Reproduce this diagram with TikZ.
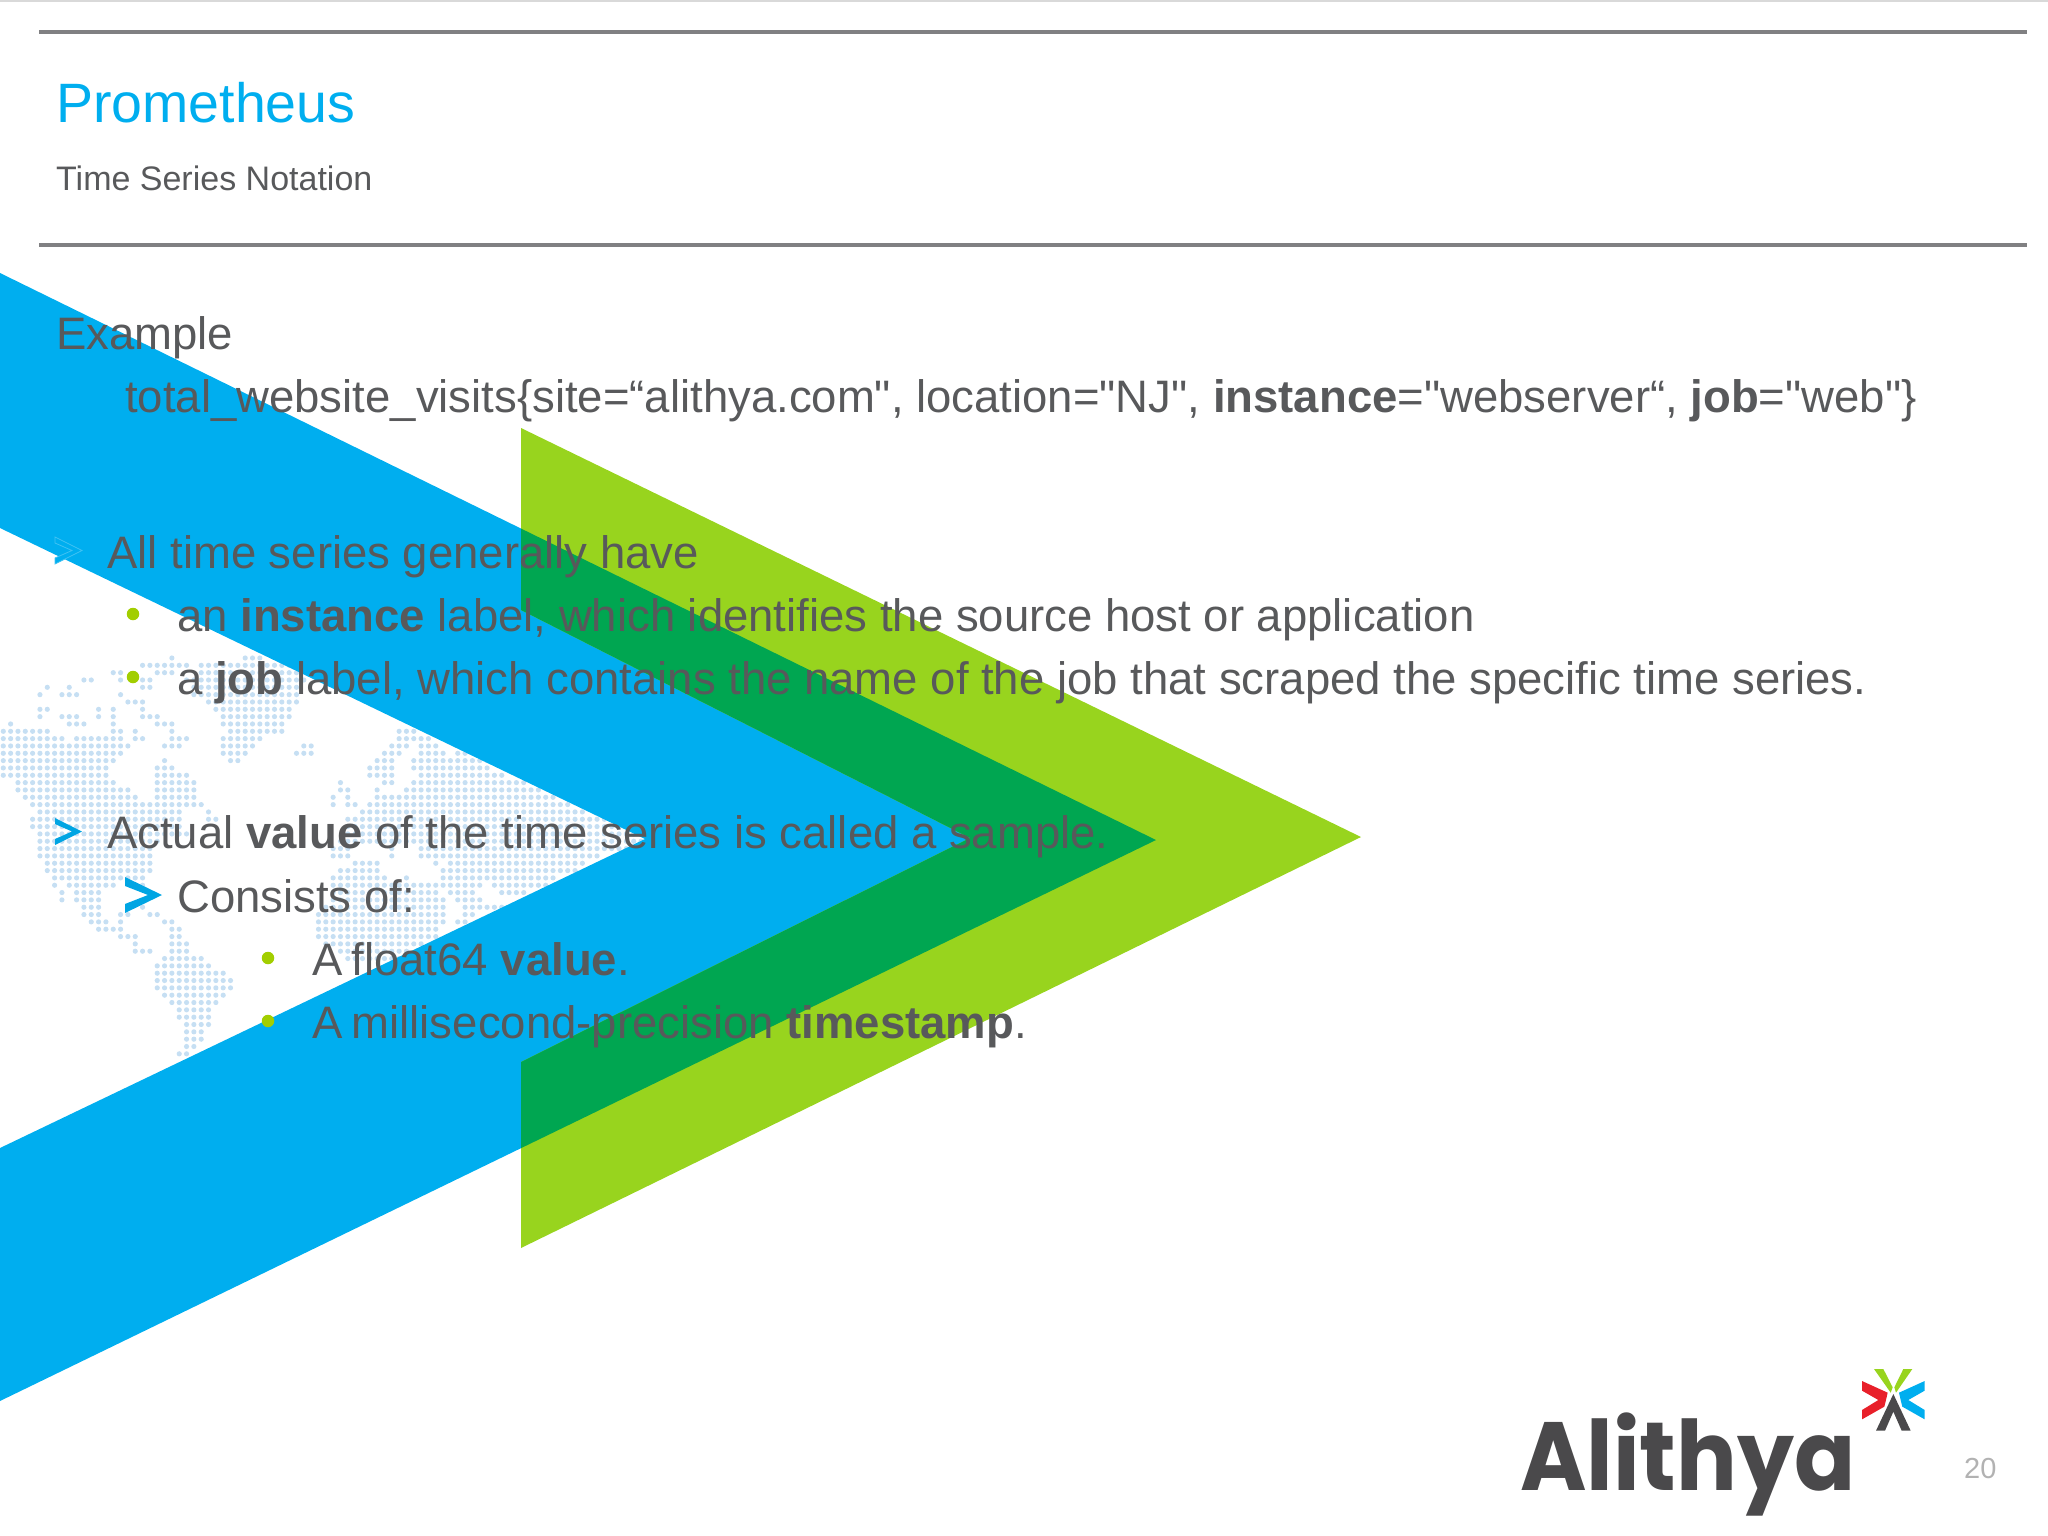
\documentclass[tikz,border=0pt]{standalone}
\usepackage{fontspec}
\setmainfont{Liberation Sans}[Ligatures=TeXOff]
\newfontfamily\logofont{Poppins}
\usetikzlibrary{positioning}
\definecolor{skyblue}{HTML}{00AEEF}
\definecolor{limegreen}{HTML}{98D41E}
\definecolor{deepgreen}{HTML}{00A651}
\definecolor{bodygrey}{HTML}{58595B}
\definecolor{rulegrey}{HTML}{808082}
\definecolor{dotblue}{HTML}{C6DFF3}
\definecolor{bulletgreen}{HTML}{A2CE00}
\definecolor{logogrey}{HTML}{4A494B}
\definecolor{logored}{HTML}{E8202A}
\newcommand{\bluechevron}{(0,273) -- (1156,840) -- (0,1401) -- (0,1148) -- (645,839) -- (0,528) -- cycle}
\newcommand{\greenchevron}{(521,428) -- (1361,837) -- (521,1248) -- (521,1062) -- (970,838) -- (521,610) -- cycle}
\tikzset{
  bodytext/.style={anchor=base west,inner sep=0pt,text=bodygrey,font=\fontsize{45.5}{53}\selectfont},
  dotbullet/.style={circle,fill=bulletgreen,inner sep=0pt,minimum size=12.5pt},
  arrowbullet/.style={fill=skyblue!95!black},
  headrule/.style={draw=rulegrey,line width=4pt},
  mapdot/.style={fill=dotblue}
}
\begin{document}
\begin{tikzpicture}[x=1pt,y=-1pt]
\useasboundingbox (0,0) rectangle (2048,1536);
\draw[black!15,line width=1.5pt] (0,1) -- (2048,1);

% dotted world map, row/first/last column
\foreach \r/\a/\b in {0/23/23,0/33/35,1/19/25,1/27/39,2/15/16,2/21/23,2/27/40,3/11/12,3/16/16,3/19/20,3/25/41,
  4/6/6,4/9/9,4/19/20,4/26/40,5/5/5,5/8/10,5/16/16,5/26/40,6/17/19,6/28/40,7/5/6,7/13/13,7/15/15,7/19/19,7/29/39,
  8/5/5,8/8/10,8/13/13,8/15/15,8/19/21,8/30/39,9/1/1,9/9/11,9/15/15,9/21/23,9/30/38,10/0/6,10/15/16,10/18/18,10/23/23,10/31/38,10/54/56,
  11/0/8,11/10/16,11/18/19,11/23/25,11/30/35,11/54/58,12/0/17,12/22/24,12/30/34,12/41/42,12/53/55,12/57/59,
  13/0/16,13/30/33,13/40/42,13/52/54,13/57/60,13/62/66,14/0/15,14/22/22,14/31/32,14/51/53,14/56/66,
  15/0/14,15/21/23,15/50/53,15/56/66,16/0/14,16/21/25,16/50/53,16/57/68,17/2/15,17/21/26,17/46/46,17/52/53,17/56/71,
  18/2/17,18/21/26,18/46/47,18/51/51,18/55/73,19/3/18,19/21/26,19/45/45,19/47/47,19/51/75,
  20/4/27,20/45/45,20/47/48,20/50/77,21/5/24,21/28/28,21/49/79,22/4/24,22/28/29,22/47/82,23/4/24,23/47/85,
  24/5/25,24/47/90,25/5/21,25/46/90,26/5/20,26/45/47,26/53/53,26/57/90,27/5/20,27/45/47,27/53/53,27/57/81,
  28/6/20,28/48/51,28/59/59,28/61/79,29/6/20,29/46/51,29/60/78,30/7/19,30/45/52,30/55/55,30/60/75,
  31/7/7,31/9/15,31/19/19,31/45/65,31/67/74,32/8/8,32/10/13,32/45/59,32/61/64,32/68/71,
  33/8/8,33/10/13,33/45/60,33/62/65,34/11/13,34/19/19,34/44/60,34/63/68,35/11/13,35/16/17,35/20/21,35/43/60,35/63/64,
  36/12/14,36/16/16,36/22/23,36/43/60,36/62/63,37/13/16,37/23/24,37/43/59,38/16/18,38/23/24,38/43/59,
  39/18/18,39/23/25,39/44/57,40/18/20,40/23/25,40/46/55,41/22/27,41/47/54,42/21/28,43/21/30,44/21/31,45/21/31,
  46/22/30,47/23/29,48/24/28,49/24/28,50/25/28,51/25/27,52/25/27,53/25/26,54/24/25}
  \foreach \c in {\a,...,\b}
    \fill[mapdot] ({3.3+7.33*\c},{658+7.33*\r}) circle (2.6pt);

\fill[skyblue] \bluechevron;
\fill[limegreen] \greenchevron;
\begin{scope}
  \clip \greenchevron;
  \fill[deepgreen] \bluechevron;
\end{scope}

\draw[headrule] (39,32.5) -- (2027,32.5);
\draw[headrule] (39,244.5) -- (2027,244.5);

\node[anchor=base west,inner sep=0pt,text=skyblue,font=\fontsize{55.5}{60}\selectfont] (title) at (56,123) {Prometheus};
\node[anchor=base west,inner sep=0pt,text=bodygrey,font=\fontsize{34}{40}\selectfont] (subtitle) at (56,190) {Time Series Notation};

\node[bodytext] (example) at (56,349.5) {Example};
\node[bodytext] (metric) at (125,412.5) {total\_website\_visits\{site=“alithya.com", location="NJ", \textbf{instance}="webserver“, \textbf{job}="web"\}};
\node[bodytext] (series) at (107,568) {All time series generally have};
\node[bodytext] (instance) at (177,631) {an \textbf{instance} label, which identifies the source host or application};
\node[bodytext] (job) at (177,694) {a \textbf{job} label, which contains the name of the job that scraped the specific time series.};
\node[bodytext] (sample) at (107,848.5) {Actual \textbf{value} of the time series is called a sample.};
\node[bodytext] (consists) at (177,912) {Consists of:};
\node[bodytext] (float) at (312,975) {A \hspace{-3.5pt}float64 \textbf{value}.};
\node[bodytext] (stamp) at (312,1038) {A \hspace{-3.5pt}millisecond-precision \textbf{timestamp}.};

\node[dotbullet] (dot1) at (133,614) {};
\node[dotbullet] (dot2) at (133,677) {};
\node[dotbullet] (dot3) at (268,958) {};
\node[dotbullet] (dot4) at (268,1021) {};

\filldraw[fill=skyblue,draw=skyblue!75!white,line width=0.8pt,shift={(55,537)}] (0,0) -- (27,13.5) -- (0,27) -- (0,21) -- (17,13.5) -- (0,6) -- cycle;
\fill[arrowbullet,shift={(55,818)}] (0,0) -- (27,13.5) -- (0,27) -- (0,21) -- (17,13.5) -- (0,6) -- cycle;
\fill[arrowbullet,shift={(125,877)}] (0,0) -- (37,18) -- (0,36) -- (0,27) -- (23,18) -- (0,9) -- cycle;

% logo
\node[anchor=base west,inner sep=0pt,text=logogrey,font=\logofont\bfseries\fontsize{97}{100}\selectfont] (logo) at (1520,1490) {\scalebox{0.93}[1]{Alithya}};
\begin{scope}[shift={(1850,1360)},x=0.3333pt,y=-0.3333pt]
  \fill[limegreen] (72,27) -- (100,27) -- (128,82) -- (122,98) -- cycle;
  \fill[limegreen] (187,27) -- (160,27) -- (133,82) -- (138,98) -- cycle;
  \fill[logored] (36,63) -- (113,98) -- (108,120) -- (103,140) -- (36,178) -- (36,150) -- (85,120) -- (36,92) -- cycle;
  \fill[skyblue] (224,63) -- (147,98) -- (152,120) -- (157,140) -- (224,178) -- (224,150) -- (175,120) -- (224,92) -- cycle;
  \fill[logogrey] (130,102) -- (182,212) -- (155,212) -- (130,155) -- (105,212) -- (78,212) -- cycle;
\end{scope}
\node[anchor=base west,inner sep=0pt,text=black!30,font=\fontsize{29}{32}\selectfont] (pageno) at (1964,1478) {20};
\end{tikzpicture}
\end{document}
